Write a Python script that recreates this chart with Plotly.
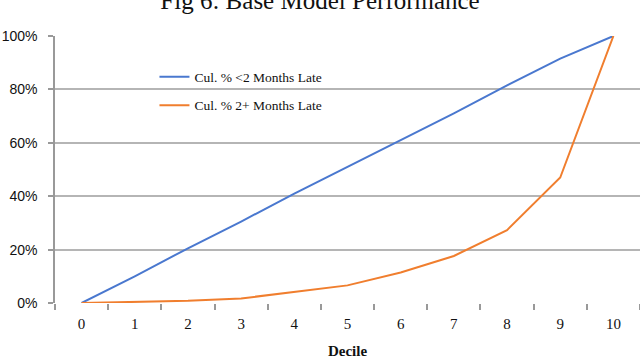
import plotly.graph_objects as go

deciles = [str(i) for i in range(11)]
cul_under_2 = [0, 10, 20.5, 30.5, 41, 51, 61, 71, 81.5, 91.5, 100]
cul_2_plus = [0, 0.3, 0.8, 1.7, 4.2, 6.6, 11.4, 17.6, 27.3, 47, 100]
y_ticks = [0, 20, 40, 60, 80, 100]

fig = go.Figure()
fig.add_trace(go.Scatter(
    x=deciles, y=cul_under_2, mode='lines', name='Cul. % <2 Months Late',
    line=dict(color='#4a78cf', width=2), legendgroup='a',
))
fig.add_trace(go.Scatter(
    x=deciles, y=cul_2_plus, mode='lines', name='Cul. % 2+ Months Late',
    line=dict(color='#f07e2e', width=2), legendgroup='b',
))

fig.update_layout(
    width=640, height=359,
    margin=dict(l=55, r=0, t=36, b=56, autoexpand=False),
    paper_bgcolor='white', plot_bgcolor='white',
    title=dict(text='Fig 6: Base Model Performance', x=0.5, xanchor='center', y=1.0, yanchor='middle',
               font=dict(family='Liberation Serif', size=25, color='#111'), automargin=False),
    legend=dict(x=0.17, y=0.905, xanchor='left', yanchor='top', bgcolor='rgba(0,0,0,0)',
                font=dict(family='Liberation Serif', size=13.5, color='#111'),
                tracegroupgap=8, itemwidth=30),
    showlegend=True,
)
fig.update_xaxes(
    type='category', range=[-0.5, 10.5], automargin=False,
    tickson='boundaries', ticks='outside', ticklen=6, tickcolor='#999', tickwidth=1.5,
    ticklabelstandoff=10,
    showgrid=False, showline=False, zeroline=False,
    tickfont=dict(family='Liberation Serif', size=15, color='#111'),
    title=dict(text='<b>Decile</b>', font=dict(family='Liberation Serif', size=15, color='#111'), standoff=14),
)
fig.update_yaxes(
    range=[0, 100], tickvals=y_ticks, ticktext=[f'{v}%' for v in y_ticks], automargin=False,
    ticks='outside', ticklen=5, tickcolor='#999', tickwidth=1.5,
    ticklabelstandoff=8,
    showgrid=True, gridcolor='#b5b5b5', gridwidth=1.5,
    showline=True, linecolor='#999', linewidth=1.5, zeroline=False,
    tickfont=dict(family='Liberation Sans', size=14, color='#111'),
)

fig.write_html('out.html', config={'displayModeBar': False},
               post_script="document.body.style.margin='0';")
